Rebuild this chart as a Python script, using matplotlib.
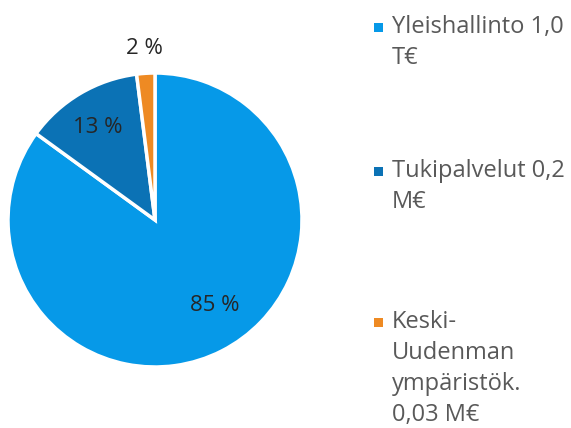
import numpy as np
import matplotlib.pyplot as plt
import matplotlib.patches as patches

# shares shown on the pie (%)
categories = ["Yleishallinto", "Tukipalvelut", "Keski-Uudenmaan ympäristökeskus"]
shares = [85, 13, 2]
pct_labels = ["85 %", "13 %", "2 %"]
legend_labels = [
    "Yleishallinto 1,0\nT€",
    "Tukipalvelut 0,2\nM€",
    "Keski-\nUudenman\nympäristök.\n0,03 M€",
]
slice_colors = ["#0699E8", "#0B72B5", "#EE8A23"]

W, H = 571, 428
fig = plt.figure(figsize=(W / 100, H / 100), dpi=100)
plt.rcParams['font.family'] = ['Open Sans', 'DejaVu Sans']

# pie axes: centre ~ (155, 220) px, radius ~147 px
cx, cy, r = 155, 220, 147
ax = fig.add_axes([(cx - r) / W, (H - cy - r) / H, 2 * r / W, 2 * r / H])
wedges, _ = ax.pie(shares, colors=slice_colors, startangle=90, counterclock=False,
                   wedgeprops=dict(edgecolor='white', linewidth=2.5))
ax.set_xlim(-1, 1)
ax.set_ylim(-1, 1)
ax.set_aspect('equal')

# percentage labels (distance from centre, angle nudge in degrees)
dists = [0.71, 0.74, 1.17]
nudges = [8, 1, 0]
for w, lab, d, nd in zip(wedges, pct_labels, dists, nudges):
    mid = np.deg2rad((w.theta1 + w.theta2) / 2 + nd)
    ax.text(d * np.cos(mid), d * np.sin(mid), lab, ha='center', va='center',
            fontsize=16, color='#262626')

# legend drawn at the right
entry_tops = [27, 171, 322]
line_h = 31
for lab, col, y0 in zip(legend_labels, slice_colors, entry_tops):
    fig.patches.append(patches.Rectangle((374 / W, (H - y0 - 5) / H), 9 / W, 9 / H,
                                         transform=fig.transFigure, facecolor=col,
                                         edgecolor='none'))
    for i, line in enumerate(lab.split("\n")):
        fig.text(392 / W, (H - y0 - i * line_h) / H, line, ha='left', va='center',
                 fontsize=17, color='#595959')

fig.savefig("out.png", dpi=100)
